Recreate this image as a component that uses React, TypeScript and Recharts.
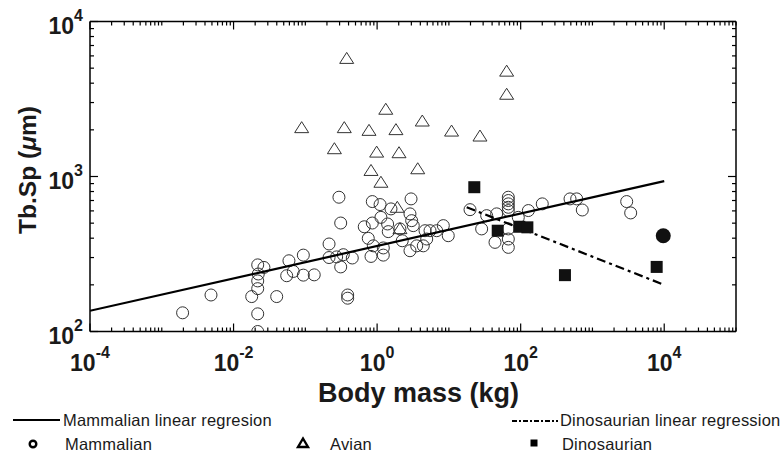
import React from 'react';
import { ScatterChart, Scatter, XAxis, YAxis } from 'recharts';

// body mass (kg) / trabecular spacing (um)
const mammalMass = [
  0.00195, 0.00485, 0.0179, 0.0217, 0.0265, 0.0221, 0.0217, 0.0217, 0.0217, 0.0217,
  0.0399, 0.0591, 0.055, 0.0679, 0.0938, 0.0938, 0.133, 0.214, 0.214, 0.273,
  0.338, 0.311, 0.451, 0.294, 0.311, 0.389, 0.389, 0.662, 0.857, 1.1,
  1.56, 1.13, 0.857, 0.753, 0.885, 0.822, 1.22, 1.22, 1.4, 1.43,
  2.08, 2.24, 2.97, 2.87, 3.03, 3.19, 2.87, 3.56, 4.65, 4.91,
  4.4, 5.46, 6.76, 8.36, 9.8, 19.7, 28.6, 33.6, 43.9, 46.3,
  67.3, 67.3, 67.3, 67.3, 67.3, 67.3, 67.3, 67.3, 92.7, 128,
  200, 487, 603, 722, 3000, 3410,
];
const mammalTbSp = [
  132, 172, 168, 269, 259, 235, 212, 189, 130, 100,
  168, 286, 229, 244, 311, 231, 232, 367, 300, 303,
  313, 261, 298, 735, 501, 172, 164, 474, 689, 659,
  618, 545, 501, 399, 357, 305, 346, 311, 494, 441,
  459, 385, 717, 574, 519, 482, 332, 357, 447, 395,
  357, 447, 447, 482, 415, 611, 459, 559, 376, 574,
  735, 700, 666, 633, 603, 459, 395, 349, 545, 603,
  666, 717, 717, 608, 689, 582,
];

const avianMass = [
  0.377, 1.32, 4.26, 0.0889, 0.349, 0.771, 1.83, 0.254, 0.986, 2.02,
  0.822, 3.68, 1.13, 1.91, 2.08, 63.8, 63.8, 10.9, 27.1,
];
const avianTbSp = [
  5780, 2716, 2280, 2066, 2066, 1985, 2006, 1511, 1437, 1424,
  1094, 1122, 918, 633, 461, 4783, 3393, 1964, 1824,
];

const dinoMass = [22.6, 47.9, 95.7, 124, 414, 7850];
const dinoTbSp = [853, 447, 474, 470, 231, 261];

const extraMass = [9700];
const extraTbSp = [415];

const mammalFitMass = [1e-4, 1e4];
const mammalFitTbSp = [136, 933];
const dinoFitMass = [17.7, 1e4];
const dinoFitTbSp = [633, 200];

const xDecades = [-4, -3, -2, -1, 0, 1, 2, 3, 4, 5];
const xLabelled = [-4, -2, 0, 2, 4];
const yDecades = [2, 3, 4];
const yLabelled = [2, 3, 4];
const minorSteps = [2, 3, 4, 5, 6, 7, 8, 9];

const zip = (xs: number[], ys: number[]) => xs.map((x, i) => ({ x, y: ys[i] }));

const buildTicks = (decades: number[]) => {
  const out: number[] = [];
  decades.forEach((d, i) => {
    out.push(Math.pow(10, d));
    if (i < decades.length - 1) minorSteps.forEach((m) => out.push(m * Math.pow(10, d)));
  });
  return out;
};

const xTicks = buildTicks(xDecades);
const yTicks = buildTicks(yDecades);

const FONT = '"Liberation Sans", Arial, Helvetica, sans-serif';
const INK = '#1a1a1a';

const decadeOf = (v: number) => {
  const e = Math.round(Math.log10(v));
  return Math.abs(v / Math.pow(10, e) - 1) < 1e-6 ? e : null;
};

const makeXTick = (side: 'bottom' | 'top') => (props: any) => {
  const { x, y, payload } = props;
  const e = decadeOf(payload.value);
  const major = e !== null && xLabelled.includes(e);
  const len = major ? 8 : 4;
  const dir = side === 'bottom' ? -1 : 1;
  return (
    <g>
      <line x1={x} y1={y} x2={x} y2={y + dir * len} stroke="#000" strokeWidth={1.2} />
      {side === 'bottom' && major && (
        <text x={x} y={y + 39.5} textAnchor="middle" fontFamily={FONT} fontWeight="bold" fontSize={23} fill={INK}>
          <tspan>10</tspan>
          <tspan dy={-13} fontSize={16}>{e}</tspan>
        </text>
      )}
    </g>
  );
};

const makeYTick = (side: 'left' | 'right') => (props: any) => {
  const { x, y, payload } = props;
  const e = decadeOf(payload.value);
  const major = e !== null && yLabelled.includes(e);
  const len = major ? 8 : 4;
  const dir = side === 'left' ? 1 : -1;
  return (
    <g>
      <line x1={x} y1={y} x2={x + dir * len} y2={y} stroke="#000" strokeWidth={1.2} />
      {side === 'left' && major && (
        <text x={x - 7} y={y + 12} textAnchor="end" fontFamily={FONT} fontWeight="bold" fontSize={23} fill={INK}>
          <tspan>10</tspan>
          <tspan dy={-13} fontSize={16}>{e}</tspan>
        </text>
      )}
    </g>
  );
};

const OpenCircle = (p: any) => (
  <circle cx={p.cx} cy={p.cy} r={6} fill="none" stroke="#333" strokeWidth={1} />
);
const OpenTriangle = (p: any) => (
  <path
    d={`M${p.cx},${p.cy - 6} L${p.cx + 7},${p.cy + 5} L${p.cx - 7},${p.cy + 5} Z`}
    fill="none"
    stroke="#333"
    strokeWidth={1}
  />
);
const FilledSquare = (p: any) => <rect x={p.cx - 6} y={p.cy - 6} width={12} height={12} fill="#111" />;
const BigDot = (p: any) => <circle cx={p.cx} cy={p.cy} r={7.5} fill="#111" />;
const Nothing = () => <g />;

export default function App() {
  const axisLine = { stroke: '#000', strokeWidth: 1.5 };
  return (
    <div style={{ position: 'absolute', left: 0, top: 0, width: 780, height: 452, background: '#fff' }}>
      <ScatterChart width={780} height={452} margin={{ top: 0, right: 0, bottom: 0, left: 0 }}>
        <XAxis
          xAxisId="b"
          dataKey="x"
          type="number"
          scale="log"
          domain={[1e-4, 1e5]}
          allowDataOverflow
          ticks={xTicks}
          interval={0}
          tickSize={0}
          tickMargin={0}
          tickLine={false}
          axisLine={axisLine}
          height={120.5}
          tick={makeXTick('bottom')}
        />
        <XAxis
          xAxisId="t"
          orientation="top"
          dataKey="x"
          type="number"
          scale="log"
          domain={[1e-4, 1e5]}
          allowDataOverflow
          ticks={xTicks}
          interval={0}
          tickSize={0}
          tickMargin={0}
          tickLine={false}
          axisLine={axisLine}
          height={21.5}
          tick={makeXTick('top')}
        />
        <YAxis
          yAxisId="l"
          dataKey="y"
          type="number"
          scale="log"
          domain={[100, 10000]}
          allowDataOverflow
          ticks={yTicks}
          interval={0}
          tickSize={0}
          tickMargin={0}
          tickLine={false}
          axisLine={axisLine}
          width={90}
          tick={makeYTick('left')}
        />
        <YAxis
          yAxisId="r"
          orientation="right"
          dataKey="y"
          type="number"
          scale="log"
          domain={[100, 10000]}
          allowDataOverflow
          ticks={yTicks}
          interval={0}
          tickSize={0}
          tickMargin={0}
          tickLine={false}
          axisLine={axisLine}
          width={44}
          tick={makeYTick('right')}
        />
        <Scatter xAxisId="b" yAxisId="l" data={zip(mammalMass, mammalTbSp)} shape={OpenCircle} isAnimationActive={false} />
        <Scatter xAxisId="b" yAxisId="l" data={zip(avianMass, avianTbSp)} shape={OpenTriangle} isAnimationActive={false} />
        <Scatter
          xAxisId="b"
          yAxisId="l"
          data={zip(mammalFitMass, mammalFitTbSp)}
          line={{ stroke: '#000', strokeWidth: 2.2 }}
          shape={Nothing}
          isAnimationActive={false}
        />
        <Scatter
          xAxisId="b"
          yAxisId="l"
          data={zip(dinoFitMass, dinoFitTbSp)}
          line={{ stroke: '#000', strokeWidth: 2.2, strokeDasharray: '9 4 3 4' }}
          shape={Nothing}
          isAnimationActive={false}
        />
        <Scatter xAxisId="b" yAxisId="l" data={zip(dinoMass, dinoTbSp)} shape={FilledSquare} isAnimationActive={false} />
        <Scatter xAxisId="b" yAxisId="l" data={zip(extraMass, extraTbSp)} shape={BigDot} isAnimationActive={false} />
      </ScatterChart>

      <svg
        width={780}
        height={452}
        style={{ position: 'absolute', left: 0, top: 0, pointerEvents: 'none' }}
        fontFamily={FONT}
      >
        <text x={418.5} y={402} textAnchor="middle" fontSize={27} fontWeight="bold" fill={INK}>
          Body mass (kg)
        </text>
        <text
          transform="translate(36,170) rotate(-90)"
          textAnchor="middle"
          fontSize={24.5}
          fontWeight="bold"
          fill={INK}
        >
          Tb.Sp (<tspan fontStyle="italic">μ</tspan>m)
        </text>

        <line x1={13} y1={420} x2={60} y2={420} stroke="#000" strokeWidth={2.2} />
        <text x={63} y={426} fontSize={16.5} letterSpacing={0.2} fill={INK}>Mammalian linear regresion</text>
        <line x1={512} y1={421} x2={558} y2={421} stroke="#000" strokeWidth={2.2} strokeDasharray="5 2 2 2" />
        <text x={560} y={426} fontSize={16.5} letterSpacing={0.2} fill={INK}>Dinosaurian linear regression</text>

        <circle cx={33} cy={444} r={3.3} fill="none" stroke="#000" strokeWidth={2.4} />
        <text x={65} y={450} fontSize={16.5} letterSpacing={0.2} fill={INK}>Mammalian</text>
        <path d="M303,438.5 L308,447 L298,447 Z" fill="none" stroke="#000" strokeWidth={2.4} />
        <text x={330} y={450} fontSize={16.5} letterSpacing={0.2} fill={INK}>Avian</text>
        <rect x={530.5} y={439.5} width={7} height={7} fill="#000" />
        <text x={562} y={450} fontSize={16.5} letterSpacing={0.2} fill={INK}>Dinosaurian</text>
      </svg>
    </div>
  );
}
